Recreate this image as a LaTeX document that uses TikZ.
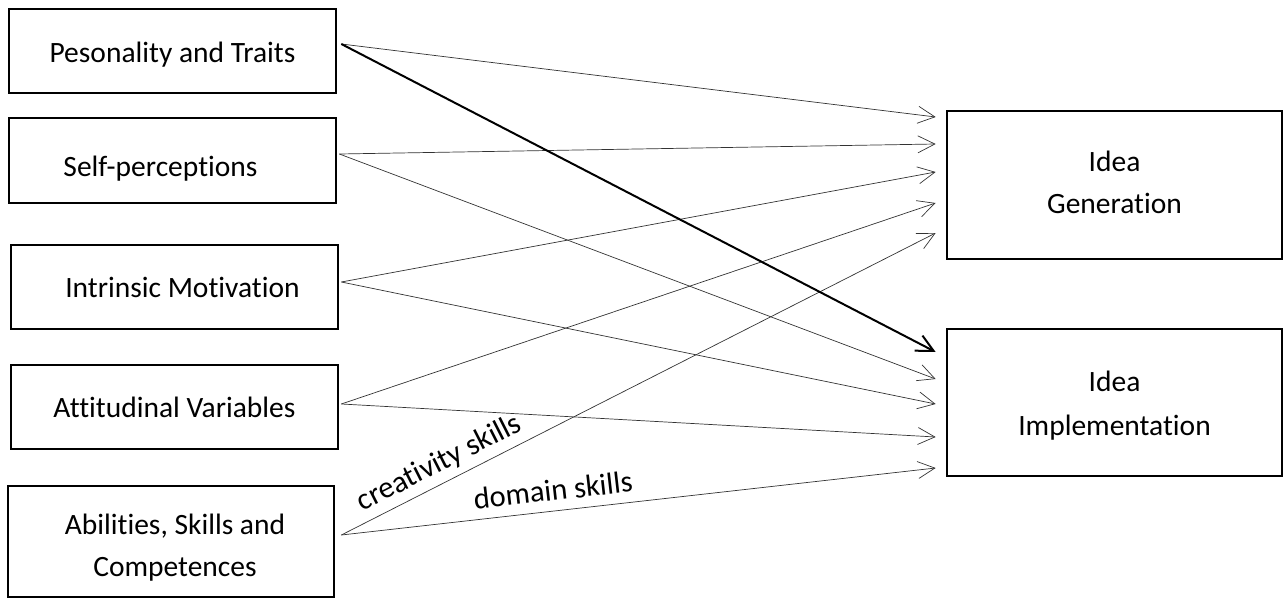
\documentclass[tikz,border=0pt]{standalone}
\usepackage{fontspec}
\setmainfont{Carlito}[Ligatures=NoCommon]
\usetikzlibrary{arrows.meta,calc}

% shift a line of text vertically without changing its reported size
\newcommand{\nudge}[2]{\raisebox{#1}[\height][\depth]{#2}}

\tikzset{
  box/.style={draw, line width=2.7pt, rectangle, align=center, inner sep=0pt,
              font=\fontsize{29.5}{42}\selectfont},
  leftbox/.style={box, minimum width=327pt, minimum height=84pt},
  rightbox/.style={box, minimum width=335pt, minimum height=148pt},
  link/.style={line width=0.7pt, draw=black!80,
               -{Straight Barb[length=17pt,width=17pt,line width=0.7pt]}},
  strong/.style={line width=2pt,
               -{Straight Barb[length=17pt,width=17pt,line width=2pt]}},
  lbl/.style={sloped, font=\fontsize{30.5}{36}\selectfont, inner sep=0pt}
}

\begin{document}
\begin{tikzpicture}[x=1pt, y=-1pt]
  \useasboundingbox (0,0) rectangle (1283,599);

  % factors on the left
  \node[leftbox] (b1) at (172.5,51) {\nudge{-4pt}{Pesonality and Traits}};
  \node[leftbox, minimum height=85pt] (b2) at (172.5,160.5)
       {\hspace*{-24pt}\nudge{-8pt}{Self-perceptions}};
  \node[leftbox] (b3) at (174.5,287) {\hspace*{16pt}Intrinsic Motivation};
  \node[leftbox] (b4) at (174.5,407) {Attitudinal Variables};
  \node[leftbox, minimum width=326pt, minimum height=111pt] (b5) at (171,541.5)
       {\hspace*{8pt}\nudge{-6pt}{Abilities, Skills and}\\\hspace*{8pt}\nudge{-6pt}{Competences}};

  % outcomes on the right
  \node[rightbox] (gen) at (1114.5,185)
       {\nudge{3pt}{Idea}\\\nudge{3pt}{Generation}};
  \node[rightbox, minimum height=147pt] (imp) at (1114.5,402.5)
       {\nudge{-3pt}{Idea}\\[2pt]\nudge{-3pt}{Implementation}};

  % paths to idea generation
  \draw[link] ($(b1.east)+(4,-7)$) -- ($(gen.west)+(-10,-68)$);
  \draw[link] ($(b2.east)+(2,-6.5)$) -- ($(gen.west)+(-10,-41)$);
  \draw[link] ($(b3.east)+(2,-5)$) -- ($(gen.west)+(-10,-13)$);
  \draw[link] ($(b4.east)+(2,-3)$) -- ($(gen.west)+(-10,18)$);
  \draw[link] ($(b5.east)+(6,-6.5)$) -- node[lbl, pos=0.18, above=6pt] {creativity skills}
              ($(gen.west)+(-10,48)$);

  % paths to idea implementation
  \draw[strong] ($(b1.east)+(4,-7)$) -- ($(imp.west)+(-10,-50.5)$);
  \draw[link] ($(b2.east)+(2,-6.5)$) -- ($(imp.west)+(-10,-23.5)$);
  \draw[link] ($(b3.east)+(2,-5)$) -- ($(imp.west)+(-10,1.5)$);
  \draw[link] ($(b4.east)+(2,-3)$) -- ($(imp.west)+(-10,34.5)$);
  \draw[link] ($(b5.east)+(6,-6.5)$) -- node[lbl, pos=0.36, above=10pt] {domain skills}
              ($(imp.west)+(-10,65.5)$);
\end{tikzpicture}
\end{document}
